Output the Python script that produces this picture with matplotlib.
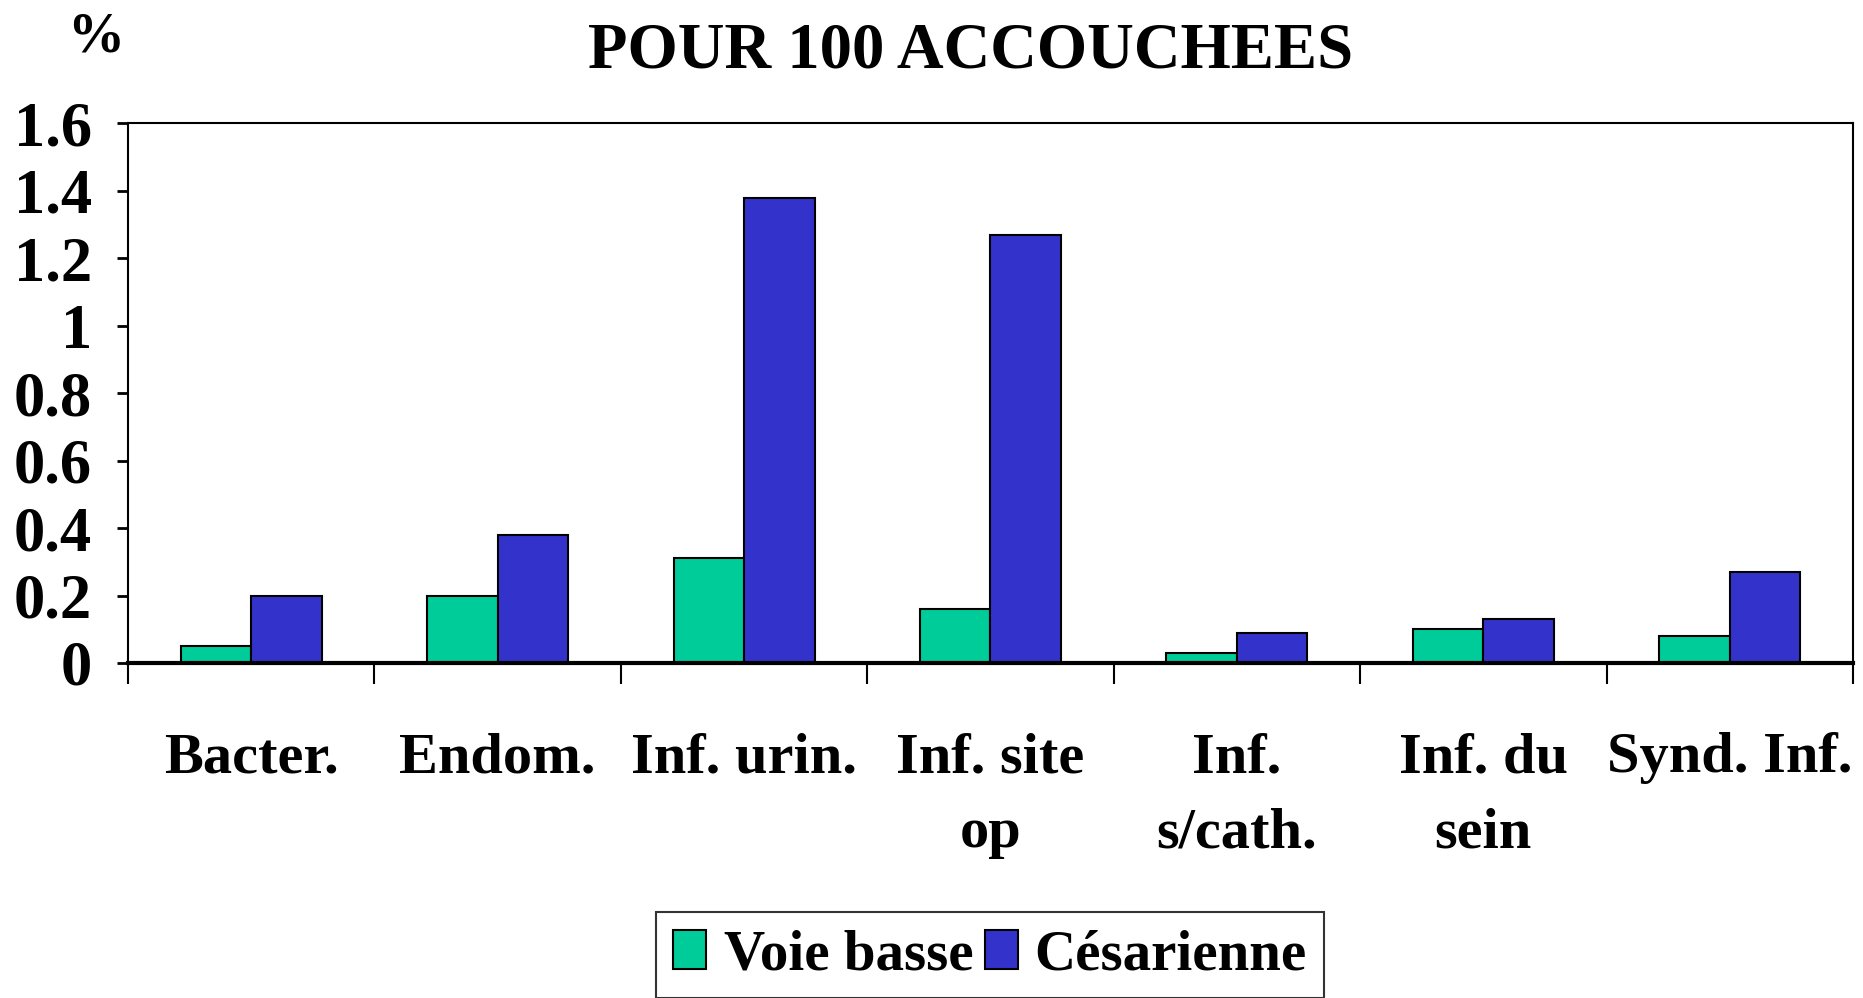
import matplotlib
matplotlib.use("Agg")
import matplotlib.pyplot as plt
import numpy as np
from matplotlib.patches import Patch

categories = ["Bacter.", "Endom.", "Inf. urin.", "Inf. site\nop", "Inf.\ns/cath.", "Inf. du\nsein", "Synd. Inf."]
voie_basse = [0.05, 0.20, 0.31, 0.16, 0.03, 0.10, 0.08]
cesarienne = [0.20, 0.38, 1.38, 1.27, 0.09, 0.13, 0.27]
series_names = ["Voie basse", "Césarienne"]
yticks = [0, 0.2, 0.4, 0.6, 0.8, 1, 1.2, 1.4, 1.6]
yticklabels = ["0", "0.2", "0.4", "0.6", "0.8", "1", "1.2", "1.4", "1.6"]

green = "#00CC99"
blue = "#3333CC"
font = "Liberation Serif"

fig = plt.figure(figsize=(18.63, 9.98), dpi=100)
ax = fig.add_axes([0.0687, 0.3357, 0.9259, 0.5406])

x = np.arange(len(categories))
w = 0.286
ax.bar(x - w / 2, voie_basse, w, color=green, edgecolor="black", linewidth=1.5, zorder=3)
ax.bar(x + w / 2, cesarienne, w, color=blue, edgecolor="black", linewidth=1.5, zorder=3)

ax.set_xlim(-0.5, len(categories) - 0.5)
ax.set_ylim(0, 1.6)
ax.set_yticks(yticks)
ax.set_yticklabels(yticklabels, fontfamily=font, fontweight="bold", fontsize=45)
ax.tick_params(axis="y", direction="out", length=8, width=2, pad=18)

ax.set_xticks(x)
ax.set_xticklabels(categories, fontfamily=font, fontweight="bold", fontsize=42, linespacing=1.57, va="top")
ax.tick_params(axis="x", which="major", length=0, pad=50)
ax.set_xticks(np.arange(-0.5, len(categories)), minor=True)
ax.tick_params(axis="x", which="minor", direction="out", length=15, width=1.5)

for s in ["top", "right", "left"]:
    ax.spines[s].set_linewidth(1.5)
ax.spines["bottom"].set_linewidth(3)
ax.spines["bottom"].set_zorder(4)

fig.text(0.521, 0.948, "POUR 100 ACCOUCHEES", ha="center", va="center",
         fontfamily=font, fontweight="bold", fontsize=46.5)
fig.text(0.0515, 0.962, "%", ha="center", va="center",
         fontfamily=font, fontweight="bold", fontsize=41)

handles = [Patch(facecolor=green, edgecolor="black", linewidth=1.5),
           Patch(facecolor=blue, edgecolor="black", linewidth=1.5)]
leg = fig.legend(handles, series_names, loc="upper center", bbox_to_anchor=(0.5315, 0.0862),
                 ncol=2, frameon=True, fancybox=False, edgecolor="black",
                 prop={"family": font, "weight": "bold", "size": 41},
                 handlelength=0.58, handleheight=0.68, handletextpad=0.3,
                 columnspacing=0.2, borderpad=0.3, borderaxespad=0)
leg.get_frame().set_linewidth(1.5)

fig.savefig("out.png", dpi=100)
